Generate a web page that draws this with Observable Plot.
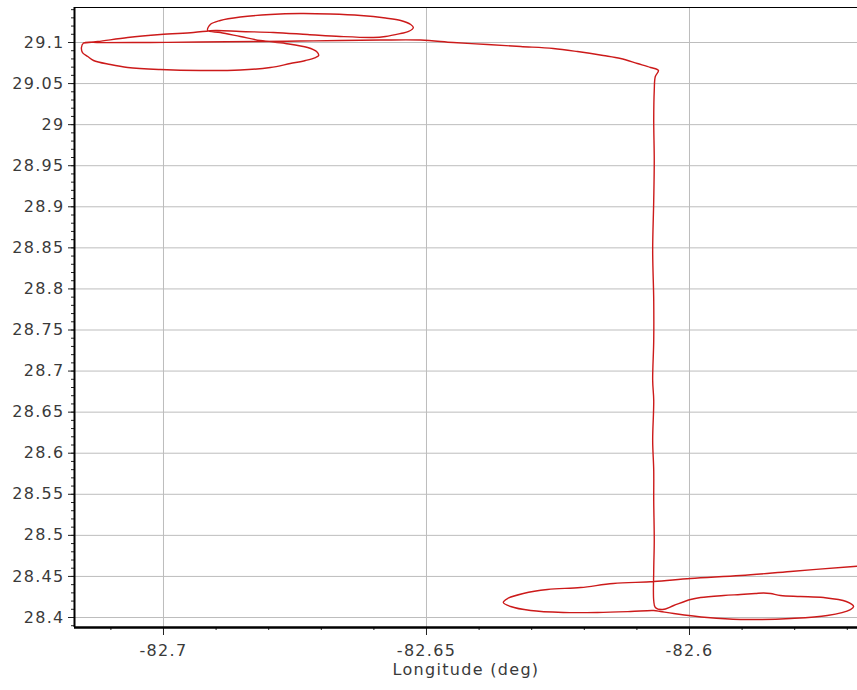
<!DOCTYPE html>
<html>
<head>
<meta charset="utf-8">
<script src="https://cdn.jsdelivr.net/npm/d3@7"></script>
<script src="https://cdn.jsdelivr.net/npm/@observablehq/plot@0.6"></script>
<style>
  html, body { margin: 0; padding: 0; background: #fff; }
  #chart svg { display: block; }
</style>
</head>
<body>
<div id="chart"></div>
<script>
// Flight track: longitude / latitude (degrees), in order
const lon = [
  -82.5656, -82.5688, -82.5808, -82.5903, -82.5998, -82.6068, -82.6145, -82.6207, -82.6270, -82.6316,
  -82.6346, -82.6354, -82.6340, -82.6302, -82.6240, -82.6175, -82.6112, -82.6068, -82.6055, -82.6030,
  -82.5966, -82.5903, -82.5808, -82.5738, -82.5694, -82.5688, -82.5702, -82.5745, -82.5789, -82.5827,
  -82.5846, -82.5859, -82.5875, -82.5903, -82.5935, -82.5979, -82.5998, -82.6030, -82.6051, -82.6065,
  -82.6068, -82.6068, -82.6067, -82.6068, -82.6068, -82.6070, -82.6068, -82.6070, -82.6068, -82.6068,
  -82.6070, -82.6068, -82.6067, -82.6068, -82.6067, -82.6065, -82.6059, -82.6074, -82.6099, -82.6131,
  -82.6164, -82.6213, -82.6259, -82.6321, -82.6384, -82.6449, -82.6511, -82.6587, -82.6664, -82.6740,
  -82.6816, -82.6930, -82.7025, -82.7120, -82.7152, -82.7156, -82.7154, -82.7144, -82.7133, -82.7101,
  -82.7068, -82.7006, -82.6930, -82.6854, -82.6797, -82.6759, -82.6730, -82.6711, -82.6705, -82.6709,
  -82.6726, -82.6768, -82.6816, -82.6854, -82.6892, -82.6916, -82.6911, -82.6892, -82.6854, -82.6797,
  -82.6740, -82.6683, -82.6625, -82.6578, -82.6549, -82.6530, -82.6525, -82.6534, -82.6549, -82.6578,
  -82.6601, -82.6664, -82.6726, -82.6791, -82.6854, -82.6901, -82.6943, -82.7006, -82.7068, -82.7125,
  -82.7152
];
const lat = [
  28.4633, 28.4621, 28.4560, 28.4511, 28.4475, 28.4438, 28.4414, 28.4365, 28.4341, 28.4292,
  28.4231, 28.4183, 28.4134, 28.4085, 28.4061, 28.4061, 28.4073, 28.4085, 28.4073, 28.4049,
  28.4000, 28.3976, 28.3988, 28.4024, 28.4097, 28.4134, 28.4195, 28.4243, 28.4256, 28.4268,
  28.4292, 28.4298, 28.4292, 28.4280, 28.4268, 28.4243, 28.4219, 28.4146, 28.4097, 28.4122,
  28.4207, 28.4572, 28.4937, 28.5424, 28.5790, 28.6155, 28.6642, 28.6885, 28.7372, 28.7859,
  28.8468, 28.9077, 28.9563, 29.0050, 29.0416, 29.0586, 29.0659, 29.0696, 29.0744, 29.0805,
  29.0842, 29.0890, 29.0927, 29.0951, 29.0976, 29.1000, 29.1030, 29.1030, 29.1024, 29.1018,
  29.1012, 29.1006, 29.1000, 29.0998, 29.0994, 29.0939, 29.0878, 29.0830, 29.0781, 29.0732,
  29.0696, 29.0671, 29.0659, 29.0665, 29.0696, 29.0744, 29.0781, 29.0817, 29.0842, 29.0890,
  29.0939, 29.0988, 29.1024, 29.1073, 29.1122, 29.1146, 29.1219, 29.1268, 29.1310, 29.1341,
  29.1353, 29.1347, 29.1329, 29.1298, 29.1268, 29.1219, 29.1183, 29.1134, 29.1110, 29.1073,
  29.1061, 29.1073, 29.1097, 29.1122, 29.1134, 29.1146, 29.1122, 29.1097, 29.1061, 29.1012,
  29.0994
];

// Axis ticks
const xTicks = [-82.7, -82.65, -82.6];
const yTicks = [28.4, 28.45, 28.5, 28.55, 28.6, 28.65, 28.7, 28.75, 28.8, 28.85, 28.9, 28.95, 29, 29.05, 29.1];
const xMinorTicks = d3.range(-82.71, -82.565, 0.01).map(v => +v.toFixed(2));
const yMinorTicks = d3.range(28.39, 29.145, 0.01).map(v => +v.toFixed(2));
const xLabel = "Longitude (deg)";

const track = lon.map((d, i) => ({lon: d, lat: lat[i]}));

const xDomain = [-82.71692, -82.56806];
const yDomain = [28.38783, 29.14261];

const chart = Plot.plot({
  width: 857,
  height: 690,
  marginLeft: 74,
  marginRight: 0,
  marginTop: 7,
  marginBottom: 63,
  style: {
    fontFamily: "'DejaVu Sans', sans-serif",
    fontSize: "16px",
    color: "#3a3a3a",
    background: "#fff",
    letterSpacing: "1.3px"
  },
  x: {domain: xDomain},
  y: {domain: yDomain},
  marks: [
    Plot.gridX(xTicks, {stroke: "#bdbdbd", strokeOpacity: 1, strokeWidth: 1}),
    Plot.gridY(yTicks, {stroke: "#bdbdbd", strokeOpacity: 1, strokeWidth: 1}),
    Plot.line(track, {x: "lon", y: "lat", stroke: "#cc1a1a", strokeWidth: 1.4, curve: "catmull-rom", clip: true}),
    Plot.axisX(xMinorTicks, {tickSize: 3, tickFormat: () => "", stroke: "#222", label: null}),
    Plot.axisX(xTicks, {tickSize: 8, tickPadding: 9, tickFormat: d => String(d), stroke: "#222", label: null}),
    Plot.axisY(yMinorTicks, {tickSize: 3, tickFormat: () => "", stroke: "#222", label: null}),
    Plot.axisY(yTicks, {tickSize: 6, tickPadding: 4, tickFormat: d => String(d), stroke: "#222", label: null}),
    Plot.ruleX([xDomain[0]], {stroke: "#000", strokeWidth: 2}),
    Plot.ruleY([yDomain[0]], {stroke: "#000", strokeWidth: 2.5}),
    Plot.ruleY([yDomain[1]], {stroke: "#000", strokeWidth: 1.2}),
    Plot.text([xLabel], {frameAnchor: "bottom", dy: 47, fill: "#3a3a3a", fontSize: 16})
  ]
});

document.getElementById("chart").appendChild(chart);
</script>
</body>
</html>
